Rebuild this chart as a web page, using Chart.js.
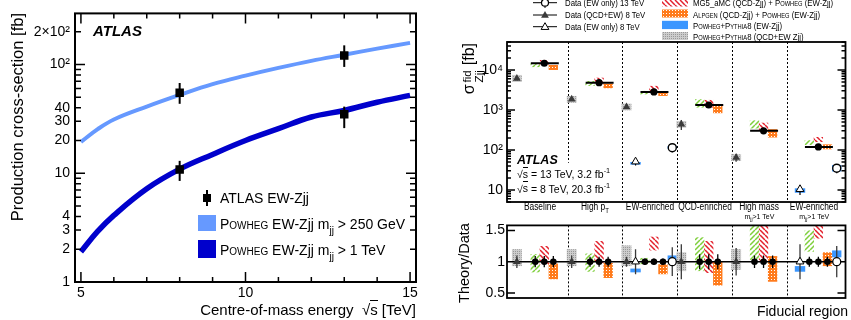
<!DOCTYPE html>
<html>
<head>
<meta charset="utf-8">
<title>EW Zjj cross-sections</title>
<script src="https://cdn.jsdelivr.net/npm/chart.js@4.4.1/dist/chart.umd.min.js"></script>
<style>
  html, body { margin: 0; padding: 0; background: #fff; }
  body { position: relative; width: 851px; height: 320px; overflow: hidden;
         font-family: "Liberation Sans", Arial, Helvetica, sans-serif; color: #000; }
  canvas { position: absolute; }
  .t { position: absolute; white-space: nowrap; line-height: 1; }
  .sc { font-variant: small-caps; }
  .rot { transform: rotate(-90deg); transform-origin: 0 0; }
  .sub { font-size: 0.72em; position: relative; top: 0.45em; }
  .ov { border-top: 1px solid #000; padding-top: 0; }
  .ss { display: inline-flex; flex-direction: column; font-size: 0.72em; line-height: 1.05; vertical-align: 0.3em; margin: 0 5px 0 2px; }
  .cat { width: 100px; text-align: center; font-size: 10px; transform: scaleX(0.84); }
  .note { width: 100px; text-align: center; font-size: 7px; }
  .leg { font-size: 9.5px; transform: scaleX(0.82); transform-origin: 0 50%; }
</style>
</head>
<body>
<canvas id="energyChart" width="425" height="320" style="left:0;top:0;width:425px;height:320px"></canvas>
<canvas id="fidChart" width="426" height="215" style="left:425px;top:0;width:426px;height:215px"></canvas>
<canvas id="ratioChart" width="426" height="105" style="left:425px;top:215px;width:426px;height:105px"></canvas>

<!-- left panel text -->
<div class="t" style="left:93px;top:23px;font-size:15px;font-weight:bold;font-style:italic">ATLAS</div>
<div class="t" style="left:220px;top:191px;font-size:14px">ATLAS EW-Zjj</div>
<div class="t" style="left:220px;top:217px;font-size:14px"><span class="sc">Powheg</span> EW-Zjj m<span class="sub">jj</span> &gt; 250 GeV</div>
<div class="t" style="left:220px;top:243px;font-size:14px"><span class="sc">Powheg</span> EW-Zjj m<span class="sub">jj</span> &gt; 1 TeV</div>
<div class="t" style="right:435px;top:302px;font-size:15px">Centre-of-mass energy &nbsp;√<span class="ov">s</span> [TeV]</div>
<div class="t rot" style="left:9px;top:243px;width:230px;text-align:right;font-size:16.5px">Production cross-section [fb]</div>

<!-- right panel text -->
<div class="t leg" style="left:565px;top:-2px">Data (EW only) 13 TeV</div>
<div class="t leg" style="left:565px;top:10px">Data (QCD+EW) 8 TeV</div>
<div class="t leg" style="left:565px;top:22px">Data (EW only) 8 TeV</div>
<div class="t leg" style="left:693px;top:-2px">MG5_aMC (QCD-Zjj) + <span class="sc">Powheg</span> (EW-Zjj)</div>
<div class="t leg" style="left:693px;top:9.5px"><span class="sc">Alpgen</span> (QCD-Zjj) + <span class="sc">Powheg</span> (EW-Zjj)</div>
<div class="t leg" style="left:693px;top:20.5px"><span class="sc">Powheg</span>+<span class="sc">Pythia8</span> (EW-Zjj)</div>
<div class="t leg" style="left:693px;top:31.5px"><span class="sc">Powheg</span>+<span class="sc">Pythia8</span> (QCD+EW Zjj)</div>
<div class="t rot" style="left:461px;top:143px;width:100px;text-align:right;font-size:16px">σ<span class="ss"><span>fid</span><span>Zjj</span></span>[fb]</div>
<div class="t rot" style="left:457px;top:323px;width:120px;text-align:center;font-size:14.5px">Theory/Data</div>
<div class="t" style="right:3px;top:304px;font-size:14px">Fiducial region</div>
<div class="t" style="left:517px;top:154px;font-size:12.5px;font-weight:bold;font-style:italic">ATLAS</div>
<div class="t" style="left:517px;top:167px;font-size:10.5px">√<span class="ov">s</span> = 13 TeV, 3.2 fb<sup style="font-size:0.7em">-1</sup></div>
<div class="t" style="left:517px;top:181.5px;font-size:10.5px">√<span class="ov">s</span> = 8 TeV, 20.3 fb<sup style="font-size:0.7em">-1</sup></div>

<script>
const FONT = '"Liberation Sans", Arial, sans-serif';

// ---------- left panel: EW-Zjj cross-section vs sqrt(s) ----------
const sqrtS       = [5, 5.5, 6, 7, 8, 9, 10, 11, 12, 13, 14, 15];
const powheg250   = [19.4, 25.3, 31.2, 41, 52.5, 66, 79, 93, 108, 123, 140, 158];   // mjj > 250 GeV
const powheg1TeV  = [1.9, 2.9, 4.1, 7.2, 10.9, 14.9, 20, 25.7, 32.9, 37.8, 45, 52]; // mjj > 1 TeV
const atlasEnergy = [8, 8, 13, 13];
const atlasXs     = [55, 10.8, 121, 34.8];
const atlasXsLo   = [43.5, 8.5, 95, 26];
const atlasXsHi   = [67.6, 13, 150, 41];
const energyTicks = [5, 10, 15];
const xsTicks     = [1, 2, 3, 4, 10, 20, 30, 40, 100, 200];
const xsTickLabels = ['1', '2', '3', '4', '10', '20', '30', '40', '10²', '2×10²'];

// ---------- right panel: fiducial cross-sections per region ----------
const regions     = ['Baseline', 'High p<span class="sub">T</span>', 'EW-enriched', 'QCD-enriched', 'High mass', 'EW-enriched'];
const regionNotes = ['', '', '', '', 'm<span class="sub">jj</span>&gt;1 TeV', 'm<span class="sub">jj</span>&gt;1 TeV'];

const data13    = [14700, 4800, 2820, 1330, 300, 119];      // QCD+EW 13 TeV
const data13Err = [0.09, 0.08, 0.05, 0.12, 0.10, 0.08];     // relative
const data8     = [6150, 1850, 1190, 440, 65, null];        // QCD+EW 8 TeV
const data8Err  = [0.10, 0.10, 0.08, 0.28, 0.22, null];
const ew8       = [null, null, 51, null, null, 10.4];       // EW only 8 TeV
const ew8Err    = [null, null, 0.20, null, null, 0.28];
const ew13      = [null, null, 114, null, null, 35];        // EW only 13 TeV
const ew13Err   = [null, null, 0.23, null, null, 0.25];

// predictions, [low, high] in fb
const sherpaXs  = [[11800, 15000], [4000, 5300], [2460, 2990], [1150, 1850], [345, 550], [133, 175]];
const mg5Xs     = [[13300, 17800], [4550, 6400], [3000, 4000], [1150, 1780], [310, 480], [158, 211]];
const alpgenXs  = [[10000, 13300], [3500, 4550], [2240, 2700], [830, 1330], [205, 330], [104, 138]];
const pwgAllXs  = [[5000, 7500], [1520, 2240], [980, 1440], [360, 530], [53, 78], null];
const pwgEw8Xs  = [null, null, [43, 50], null, null, [8.5, 11]];
const pwgEw13Xs = [null, null, [107, 126], null, null, [29, 42]];

// theory / data, [low, high]
const sherpaRatio  = [[0.83, 1.12], [0.84, 1.13], [0.96, 1.06], [0.85, 1.39], [1.03, 1.6], [1.16, 1.5]];
const mg5Ratio     = [[0.95, 1.25], [0.98, 1.33], [1.18, 1.4], [0.82, 1.33], [1.0, 1.6], [1.37, 1.6]];
const alpgenRatio  = [[0.72, 0.97], [0.74, 0.98], [0.8, 0.96], [0.62, 1.0], [0.68, 1.09], [0.93, 1.15]];
const pwgAllRatio  = [[0.93, 1.2], [0.93, 1.2], [0.93, 1.26], [0.85, 1.15], [0.87, 1.2], null];
const pwgEw8Ratio  = [null, null, [0.83, 0.89], null, null, [0.84, 0.93]];
const pwgEw13Ratio = [null, null, [1.02, 1.1], null, null, [1.07, 1.18]];

const fidTicks        = [10, 100, 1000, 10000];
const fidTickLabels   = ['10', '10²', '10³', '10⁴'];
const ratioTicks      = [0.5, 1, 1.5];
const ratioTickLabels = ['0.5', '1', '1.5'];

// where things sit inside one region (in region units) and box half widths
const SLOT = { data8: 0.075, ew8: 0.24, sherpa: 0.41, mg5: 0.575, alpgen: 0.74, ew13: 0.91 };
const HW = 0.085;
const DATA13_SPAN = [0.33, 0.84];
const DIVIDER1_END = 48;   // first divider stops above the ATLAS label

// ---------- helpers ----------
function logTickMarks(min, max, major, minor) {
  const out = [];
  for (let d = Math.pow(10, Math.floor(Math.log10(min))); d <= max; d *= 10) {
    for (let m = 1; m <= 9; m++) {
      const v = m * d;
      if (v >= min * 0.999 && v <= max * 1.001) out.push({ v, len: m === 1 ? major : minor });
    }
  }
  return out;
}

function drawFrame(chart, xMarks, yMarks, width) {
  const { ctx, chartArea: a, scales } = chart;
  ctx.save();
  ctx.strokeStyle = '#000';
  ctx.lineWidth = 1.5;
  ctx.beginPath();
  xMarks.forEach(t => {
    const px = scales.x.getPixelForValue(t.v);
    ctx.moveTo(px, a.bottom); ctx.lineTo(px, a.bottom - t.len);
    ctx.moveTo(px, a.top);    ctx.lineTo(px, a.top + t.len);
  });
  yMarks.forEach(t => {
    const py = scales.y.getPixelForValue(t.v);
    ctx.moveTo(a.left, py);  ctx.lineTo(a.left + t.len, py);
    ctx.moveTo(a.right, py); ctx.lineTo(a.right - t.len, py);
  });
  ctx.stroke();
  ctx.lineWidth = width;
  ctx.strokeRect(a.left, a.top, a.right - a.left, a.bottom - a.top);
  ctx.restore();
}

function errorBar(ctx, chart, x, lo, hi, color, width) {
  const px = chart.scales.x.getPixelForValue(x);
  ctx.strokeStyle = color;
  ctx.lineWidth = width;
  ctx.beginPath();
  ctx.moveTo(px, chart.scales.y.getPixelForValue(lo));
  ctx.lineTo(px, chart.scales.y.getPixelForValue(hi));
  ctx.stroke();
}

function band(ctx, chart, xc, hw, range, fill) {
  if (!range) return;
  const { x, y } = chart.scales;
  const x0 = x.getPixelForValue(xc - hw), x1 = x.getPixelForValue(xc + hw);
  const y0 = y.getPixelForValue(range[0]), y1 = y.getPixelForValue(range[1]);
  ctx.fillStyle = fill;
  ctx.fillRect(x0, y1, x1 - x0, y0 - y1);
}

function diag(g, s, dir) {
  g.beginPath();
  for (let k = -s; k <= 2 * s; k += s) {
    if (dir > 0) { g.moveTo(k, s); g.lineTo(k + s, 0); }
    else { g.moveTo(k, 0); g.lineTo(k + s, s); }
  }
  g.stroke();
}

function makePatterns(ctx) {
  const tile = (size, paint) => {
    const c = document.createElement('canvas');
    c.width = c.height = size;
    paint(c.getContext('2d'));
    return ctx.createPattern(c, 'repeat');
  };
  return {
    sherpa: tile(5, g => { g.strokeStyle = '#7fcf3c'; g.lineWidth = 1.5; diag(g, 5, 1); }),
    mg5: tile(5, g => { g.strokeStyle = '#e3202c'; g.lineWidth = 1.5; diag(g, 5, -1); }),
    alpgen: tile(3, g => { g.fillStyle = '#ff7b1c'; g.fillRect(0, 0, 3, 3); g.fillStyle = '#fff'; g.fillRect(1, 1, 1, 1); }),
    gray: tile(2, g => { g.fillStyle = '#cdcdcd'; g.fillRect(0, 0, 2, 2); g.fillStyle = '#999'; g.fillRect(0, 0, 1, 1); }),
    blue: '#3a96ff',
  };
}

function triangle(ctx, x, y, r, fill, stroke) {
  ctx.beginPath();
  for (let k = 0; k < 3; k++) {
    const a = k * 2 * Math.PI / 3;
    const px = x + Math.sin(a) * r, py = y - Math.cos(a) * r;
    k ? ctx.lineTo(px, py) : ctx.moveTo(px, py);
  }
  ctx.closePath();
  ctx.fillStyle = fill; ctx.fill();
  if (stroke) { ctx.strokeStyle = stroke; ctx.lineWidth = 1; ctx.stroke(); }
}

function pts(values, slot, yOf) {
  const out = [];
  values.forEach((v, i) => { if (v != null) out.push({ x: i + slot, y: yOf ? yOf(v) : v }); });
  return out;
}

const common = {
  responsive: false, animation: false, devicePixelRatio: 1, events: [],
  plugins: { legend: { display: false }, tooltip: { enabled: false } },
};

function fixedTicks(values, labels, size, padding) {
  return {
    afterBuildTicks: s => { s.ticks = values.map(v => ({ value: v })); },
    ticks: {
      autoSkip: false, maxRotation: 0, color: '#000', padding,
      font: { family: FONT, size },
      callback: (v, i) => labels[i],
    },
    grid: { display: false, drawTicks: false },
    border: { display: false },
  };
}

// ---------- left chart ----------
const energyPlugin = {
  id: 'energyDecor',
  afterDatasetsDraw(chart) {
    const ctx = chart.ctx;
    ctx.save();
    atlasEnergy.forEach((e, i) => errorBar(ctx, chart, e, atlasXsLo[i], atlasXsHi[i], '#000', 2));
    ctx.restore();
  },
  afterDraw(chart) {
    const xMarks = [];
    for (let v = 5; v <= 15; v++) xMarks.push({ v, len: v % 5 === 0 ? 10 : 5 });
    drawFrame(chart, xMarks, logTickMarks(1, 295, 10, 6), 2);
    // legend swatches
    const ctx = chart.ctx;
    ctx.save();
    ctx.fillStyle = '#000';
    ctx.fillRect(203, 194, 8, 8);
    ctx.fillRect(206, 190, 2, 16);
    ctx.fillStyle = '#6699ff';
    ctx.fillRect(198, 215, 18, 16);
    ctx.fillStyle = '#0000cc';
    ctx.fillRect(198, 240, 18, 18);
    ctx.restore();
  },
};

new Chart(document.getElementById('energyChart'), {
  type: 'scatter',
  data: {
    datasets: [
      {
        data: atlasEnergy.map((e, i) => ({ x: e, y: atlasXs[i] })),
        pointStyle: 'rect', pointRadius: 6, backgroundColor: '#000', borderColor: '#000', borderWidth: 0,
      },
      {
        data: sqrtS.map((s, i) => ({ x: s, y: powheg250[i] })),
        showLine: true, borderColor: '#6699ff', borderWidth: 4, pointRadius: 0, tension: 0.4,
      },
      {
        data: sqrtS.map((s, i) => ({ x: s, y: powheg1TeV[i] })),
        showLine: true, borderColor: '#0000cc', borderWidth: 5.5, pointRadius: 0, tension: 0.4,
      },
    ],
  },
  options: {
    ...common,
    layout: { padding: { top: 13, right: 9, left: 0, bottom: 0 } },
    scales: {
      x: { type: 'linear', min: 4.82, max: 15.18, ...fixedTicks(energyTicks, energyTicks.map(String), 14, 3),
           afterFit: s => { s.height = 38; } },
      y: { type: 'logarithmic', min: 1, max: 295, ...fixedTicks(xsTicks, xsTickLabels, 14, 5),
           afterFit: s => { s.width = 75; } },
    },
  },
  plugins: [energyPlugin],
});

// ---------- right upper chart ----------
const fidPlugin = {
  id: 'fidDecor',
  beforeDatasetsDraw(chart) {
    const { ctx, chartArea: a, scales: { x, y } } = chart;
    const p = makePatterns(ctx);
    ctx.save();
    ctx.beginPath(); ctx.rect(a.left, a.top, a.right - a.left, a.bottom - a.top); ctx.clip();

    ctx.strokeStyle = '#000'; ctx.lineWidth = 1; ctx.setLineDash([2, 2]);
    for (let k = 1; k < regions.length; k++) {
      const px = Math.round(x.getPixelForValue(k)) + 0.5;
      ctx.beginPath();
      ctx.moveTo(px, a.top);
      ctx.lineTo(px, k === 1 ? y.getPixelForValue(DIVIDER1_END) : a.bottom);
      ctx.stroke();
    }
    ctx.setLineDash([]);

    regions.forEach((_, i) => {
      band(ctx, chart, i + SLOT.data8, HW + 0.005, pwgAllXs[i], p.gray);
      band(ctx, chart, i + SLOT.ew8, HW + 0.01, pwgEw8Xs[i], p.blue);
      band(ctx, chart, i + SLOT.ew13, HW, pwgEw13Xs[i], p.blue);
      band(ctx, chart, i + SLOT.sherpa, HW, sherpaXs[i], p.sherpa);
      band(ctx, chart, i + SLOT.mg5, HW, mg5Xs[i], p.mg5);
      band(ctx, chart, i + SLOT.alpgen, HW, alpgenXs[i], p.alpgen);
    });

    regions.forEach((_, i) => {
      const py = y.getPixelForValue(data13[i]);
      ctx.strokeStyle = '#000'; ctx.lineWidth = 2;
      ctx.beginPath();
      ctx.moveTo(x.getPixelForValue(i + DATA13_SPAN[0]), py);
      ctx.lineTo(x.getPixelForValue(i + DATA13_SPAN[1]), py);
      ctx.stroke();
      errorBar(ctx, chart, i + SLOT.mg5, data13[i] * (1 - data13Err[i]), data13[i] * (1 + data13Err[i]), '#000', 1.3);
      if (data8[i] != null)
        errorBar(ctx, chart, i + SLOT.data8, data8[i] * (1 - data8Err[i]), data8[i] * (1 + data8Err[i]), '#3a3a3a', 1.3);
      if (ew8[i] != null)
        errorBar(ctx, chart, i + SLOT.ew8, ew8[i] * (1 - ew8Err[i]), ew8[i] * (1 + ew8Err[i]), '#000', 1.2);
      if (ew13[i] != null)
        errorBar(ctx, chart, i + SLOT.ew13, ew13[i] * (1 - ew13Err[i]), ew13[i] * (1 + ew13Err[i]), '#000', 1.2);
    });
    ctx.restore();
  },
  afterDraw(chart) {
    drawFrame(chart, [], logTickMarks(5, 50000, 8, 4), 1.8);
    // legend markers and swatches
    const ctx = chart.ctx;
    const p = makePatterns(ctx);
    ctx.save();
    ctx.strokeStyle = '#000'; ctx.lineWidth = 1;
    [2.7, 15, 26.7].forEach(yy => {
      ctx.beginPath(); ctx.moveTo(108, yy); ctx.lineTo(132, yy); ctx.stroke();
    });
    ctx.beginPath(); ctx.moveTo(120, -3); ctx.lineTo(120, 8); ctx.stroke();
    ctx.beginPath(); ctx.arc(120, 2.7, 3.5, 0, 2 * Math.PI);
    ctx.fillStyle = '#fff'; ctx.fill(); ctx.lineWidth = 1.2; ctx.stroke();
    triangle(ctx, 120, 15.5, 4.5, '#3a3a3a');
    triangle(ctx, 120, 27.2, 4.5, '#fff', '#000');
    ctx.fillStyle = p.mg5;    ctx.fillRect(237, -2, 26, 8.5);
    ctx.fillStyle = p.alpgen; ctx.fillRect(237, 9.5, 26, 8);
    ctx.fillStyle = p.blue;   ctx.fillRect(237, 20.8, 26, 8.3);
    ctx.fillStyle = p.gray;   ctx.fillRect(237, 32, 26, 8);
    ctx.restore();
  },
};

const fidChart = new Chart(document.getElementById('fidChart'), {
  type: 'scatter',
  data: {
    datasets: [
      { data: pts(data13, SLOT.mg5), pointStyle: 'circle', pointRadius: 3.6,
        backgroundColor: '#000', borderColor: '#000', borderWidth: 0 },
      { data: pts(ew13, SLOT.ew13), pointStyle: 'circle', pointRadius: 4,
        backgroundColor: '#fff', borderColor: '#000', borderWidth: 1.4 },
      { data: pts(ew8, SLOT.ew8), pointStyle: 'triangle', pointRadius: 4.5,
        backgroundColor: '#fff', borderColor: '#000', borderWidth: 1 },
      { data: pts(data8, SLOT.data8), pointStyle: 'triangle', pointRadius: 4.5,
        backgroundColor: '#3a3a3a', borderColor: '#3a3a3a', borderWidth: 0 },
    ],
  },
  options: {
    ...common,
    layout: { padding: { top: 42, right: 1, left: 0, bottom: 13 } },
    scales: {
      x: { type: 'linear', min: -0.105, max: 6.07, display: false },
      y: { type: 'logarithmic', min: 5, max: 50000, ...fixedTicks(fidTicks, fidTickLabels, 14, 4),
           afterFit: s => { s.width = 82; } },
    },
  },
  plugins: [fidPlugin],
});

// ---------- right lower chart: theory / data ----------
const ratioPlugin = {
  id: 'ratioDecor',
  beforeDatasetsDraw(chart) {
    const { ctx, chartArea: a, scales: { x, y } } = chart;
    const p = makePatterns(ctx);
    ctx.save();
    ctx.beginPath(); ctx.rect(a.left, a.top, a.right - a.left, a.bottom - a.top); ctx.clip();

    ctx.strokeStyle = '#000'; ctx.lineWidth = 1; ctx.setLineDash([2, 2]);
    for (let k = 1; k < regions.length; k++) {
      const px = Math.round(x.getPixelForValue(k)) + 0.5;
      ctx.beginPath(); ctx.moveTo(px, a.top); ctx.lineTo(px, a.bottom); ctx.stroke();
    }
    ctx.setLineDash([]);

    regions.forEach((_, i) => {
      band(ctx, chart, i + SLOT.data8, HW + 0.005, pwgAllRatio[i], p.gray);
      band(ctx, chart, i + SLOT.ew8, HW + 0.01, pwgEw8Ratio[i], p.blue);
      band(ctx, chart, i + SLOT.ew13, HW, pwgEw13Ratio[i], p.blue);
      band(ctx, chart, i + SLOT.sherpa, HW, sherpaRatio[i], p.sherpa);
      band(ctx, chart, i + SLOT.mg5, HW, mg5Ratio[i], p.mg5);
      band(ctx, chart, i + SLOT.alpgen, HW, alpgenRatio[i], p.alpgen);
    });

    const py1 = y.getPixelForValue(1);
    ctx.strokeStyle = '#000'; ctx.lineWidth = 1.6;
    ctx.beginPath(); ctx.moveTo(a.left, py1); ctx.lineTo(a.right, py1); ctx.stroke();

    regions.forEach((_, i) => {
      [SLOT.sherpa, SLOT.mg5, SLOT.alpgen].forEach(s =>
        errorBar(ctx, chart, i + s, 1 - data13Err[i], 1 + data13Err[i], '#000', 1.3));
      if (data8[i] != null) errorBar(ctx, chart, i + SLOT.data8, 1 - data8Err[i], 1 + data8Err[i], '#3a3a3a', 1.3);
      if (ew8[i] != null) errorBar(ctx, chart, i + SLOT.ew8, 1 - ew8Err[i], 1 + ew8Err[i], '#3a3a3a', 1.3);
      if (ew13[i] != null) errorBar(ctx, chart, i + SLOT.ew13, 1 - ew13Err[i], 1 + ew13Err[i], '#3a3a3a', 1.3);
    });
    ctx.restore();
  },
  afterDraw(chart) {
    drawFrame(chart, [], [{ v: 0.5, len: 8 }, { v: 1.5, len: 8 }], 1.8);
  },
};

new Chart(document.getElementById('ratioChart'), {
  type: 'scatter',
  data: {
    datasets: [
      { data: [SLOT.sherpa, SLOT.mg5, SLOT.alpgen].flatMap(s => pts(data13, s, () => 1)),
        pointStyle: 'circle', pointRadius: 3.3, backgroundColor: '#000', borderColor: '#000', borderWidth: 0 },
      { data: pts(ew13, SLOT.ew13, () => 1), pointStyle: 'circle', pointRadius: 4,
        backgroundColor: '#fff', borderColor: '#000', borderWidth: 1.3 },
      { data: pts(ew8, SLOT.ew8, () => 1), pointStyle: 'triangle', pointRadius: 4.5,
        backgroundColor: '#fff', borderColor: '#000', borderWidth: 1 },
      { data: pts(data8, SLOT.data8, () => 1), pointStyle: 'triangle', pointRadius: 4.5,
        backgroundColor: '#3a3a3a', borderColor: '#3a3a3a', borderWidth: 0 },
    ],
  },
  options: {
    ...common,
    layout: { padding: { top: 9, right: 1, left: 0, bottom: 22 } },
    scales: {
      x: { type: 'linear', min: -0.105, max: 6.07, display: false },
      y: { type: 'linear', min: 0.42, max: 1.58, ...fixedTicks(ratioTicks, ratioTickLabels, 14, 2),
           afterFit: s => { s.width = 82; } },
    },
  },
  plugins: [ratioPlugin],
});

// region names under the upper panel, centred in each region
const fx = fidChart.scales.x;
regions.forEach((name, i) => {
  const x0 = fx.getPixelForValue(Math.max(i, fx.min));
  const x1 = fx.getPixelForValue(Math.min(i + 1, fx.max));
  const cx = 425 + (x0 + x1) / 2;
  const add = (html, top, cls) => {
    const d = document.createElement('div');
    d.className = 't ' + cls;
    d.style.left = (cx - 50) + 'px';
    d.style.top = top + 'px';
    d.innerHTML = html;
    document.body.appendChild(d);
  };
  add(name, 202, 'cat');
  if (regionNotes[i]) add(regionNotes[i], 213, 'note');
});
</script>
</body>
</html>
